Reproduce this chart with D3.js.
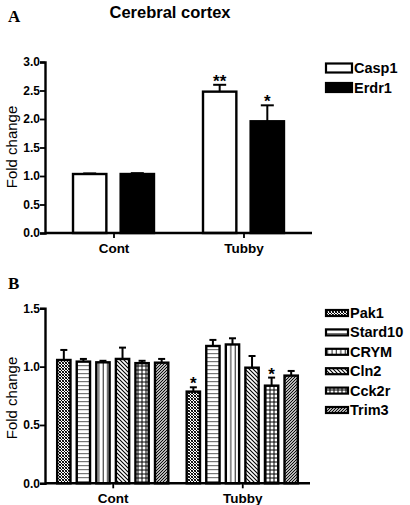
<!DOCTYPE html>
<html><head><meta charset="utf-8">
<script src="https://cdn.jsdelivr.net/npm/d3@7"></script>
<style>body{margin:0;background:#fff}svg{display:block}</style>
</head><body>
<svg id="c" width="410" height="505"></svg>
<script>
const categories = ["Cont", "Tubby"];
// Panel A
const seriesA = ["Casp1", "Erdr1"];
const casp1 = [1.035, 2.48];
const casp1Err = [0.01, 0.12];
const erdr1 = [1.035, 1.96];
const erdr1Err = [0.015, 0.28];
const starsA = [["", ""], ["**", "*"]];
const ticksA = [0, 0.5, 1.0, 1.5, 2.0, 2.5, 3.0];
// Panel B
const seriesB = ["Pak1", "Stard10", "CRYM", "Cln2", "Cck2r", "Trim3"];
const pak1 = [1.057, 0.786];
const pak1Err = [0.086, 0.037];
const stard10 = [1.043, 1.177];
const stard10Err = [0.023, 0.052];
const crym = [1.037, 1.19];
const crymErr = [0.013, 0.053];
const cln2 = [1.066, 0.991];
const cln2Err = [0.097, 0.10];
const cck2r = [1.03, 0.837];
const cck2rErr = [0.02, 0.069];
const trim3 = [1.034, 0.923];
const trim3Err = [0.032, 0.04];
const starsB = [["", "", "", "", "", ""], ["*", "", "", "", "*", ""]];
const ticksB = [0, 0.5, 1.0, 1.5];

const svg = d3.select("#c");
const FONT = "'Liberation Sans', Arial, sans-serif";

// patterns
const defs = svg.append("defs");
function pat(id, w, h, draw, bg) {
  const p = defs.append("pattern").attr("id", id).attr("patternUnits", "userSpaceOnUse").attr("width", w).attr("height", h);
  p.append("rect").attr("width", w).attr("height", h).attr("fill", bg || "#fff");
  draw(p);
}
pat("pBlack", 4, 4, p => {}, "#000");
pat("pWhite", 4, 4, p => {}, "#fff");
pat("pPak1", 3, 3, p => {
  p.append("rect").attr("x", 0).attr("y", 0).attr("width", 1).attr("height", 1).attr("fill", "#000");
  p.append("rect").attr("x", 1).attr("y", 1).attr("width", 1).attr("height", 1).attr("fill", "#000");
  p.append("rect").attr("x", 2).attr("y", 2).attr("width", 1).attr("height", 1).attr("fill", "#000");
  p.append("rect").attr("x", 2).attr("y", 0).attr("width", 1).attr("height", 1).attr("fill", "#333");
  p.append("rect").attr("x", 0).attr("y", 2).attr("width", 1).attr("height", 1).attr("fill", "#333");
}, "#fff");
pat("pStard10", 4, 4, p => {
  p.append("rect").attr("x", 0).attr("y", 1).attr("width", 4).attr("height", 1.2).attr("fill", "#777");
});
pat("pCRYM", 4.4, 4, p => {
  p.append("rect").attr("x", 1.5).attr("y", 0).attr("width", 1).attr("height", 4).attr("fill", "#222");
});
pat("pCln2", 4, 4, p => {
  p.append("path").attr("d", "M0,0L4,4M-1,3L1,5M3,-1L5,1").attr("stroke", "#000").attr("stroke-width", 1.1);
});
pat("pCck2r", 4, 4, p => {
  p.append("rect").attr("x", 0).attr("y", 1.5).attr("width", 4).attr("height", 1).attr("fill", "#000");
  p.append("rect").attr("x", 1.5).attr("y", 0).attr("width", 1).attr("height", 4).attr("fill", "#000");
});
pat("pTrim3", 3, 3, p => {
  p.append("path").attr("d", "M0,3L3,0M-1,1L1,-1M2,4L4,2").attr("stroke", "#000").attr("stroke-width", 1.1);
});

function panel(opts) {
  const g = svg.append("g");
  const y = d3.scaleLinear().domain([0, opts.ymax]).range(opts.yRange);
  const x0 = d3.scaleBand().domain(categories).range(opts.xRange)
    .paddingInner(opts.pIn).paddingOuter(opts.pOut);
  const x1 = d3.scaleBand().domain(opts.series).range([0, x0.bandwidth()]).paddingInner(opts.p1);

  opts.series.forEach((s, si) => {
    categories.forEach((c, ci) => {
      const v = opts.values[si][ci], e = opts.errs[si][ci];
      const bx = x0(c) + x1(s), bw = x1.bandwidth();
      const cx = bx + bw / 2;
      g.append("line").attr("x1", cx).attr("x2", cx).attr("y1", y(v)).attr("y2", y(v + e))
        .attr("stroke", "#000").attr("stroke-width", 2);
      g.append("line").attr("x1", cx - opts.cap / 2).attr("x2", cx + opts.cap / 2).attr("y1", y(v + e)).attr("y2", y(v + e))
        .attr("stroke", "#000").attr("stroke-width", 2);
      g.append("rect").attr("x", bx).attr("y", y(v)).attr("width", bw).attr("height", y(0) - y(v))
        .attr("fill", `url(#${opts.fills[si]})`).attr("stroke", "#000").attr("stroke-width", 2.4);
      const st = opts.stars[ci][si];
      if (st) {
        g.append("text").attr("x", cx).attr("y", y(v + e) + opts.starDy).attr("text-anchor", "middle")
          .attr("font-family", FONT).attr("font-weight", "bold").attr("font-size", 17).text(st);
      }
    });
  });

  // y axis
  const ya = g.append("g").attr("transform", `translate(${opts.xRange[0]},0)`)
    .call(d3.axisLeft(y).tickValues(opts.ticks).tickFormat(d3.format(".1f")).tickSizeOuter(0).tickSize(5));
  ya.select(".domain").attr("stroke-width", 2.4);
  ya.selectAll(".tick line").attr("stroke-width", 1.8);
  ya.selectAll("text").attr("font-family", FONT).attr("font-weight", "bold").attr("font-size", 12).attr("x", -5).attr("fill", "#000");
  // x axis
  const xa = g.append("g").attr("transform", `translate(0,${opts.yRange[0]})`)
    .call(d3.axisBottom(d3.scalePoint().domain(categories).range([x0(categories[0]) + x0.bandwidth() / 2, x0(categories[1]) + x0.bandwidth() / 2]))
      .tickSize(5).tickSizeOuter(0));
  xa.select(".domain").attr("d", `M${opts.xRange[0]},0H${opts.xEnd}`).attr("stroke-width", 2.4);
  xa.selectAll(".tick line").attr("stroke-width", 1.8);
  xa.selectAll("text").attr("font-family", FONT).attr("font-weight", "bold").attr("font-size", 13.5).attr("dy", "0.95em").attr("y", 7).attr("fill", "#000");

  // y label
  g.append("text").attr("transform", `translate(${opts.ylabX},${opts.ylabY}) rotate(-90)`).attr("text-anchor", "middle")
    .attr("font-family", FONT).attr("font-size", 15).text("Fold change");

  // legend
  opts.series.forEach((s, si) => {
    const ly = opts.legY + si * opts.legStep;
    g.append("rect").attr("x", 326).attr("y", ly - opts.boxH / 2).attr("width", opts.boxW).attr("height", opts.boxH)
      .attr("fill", `url(#${opts.fills[si]})`).attr("stroke", "#000").attr("stroke-width", 2.2);
    g.append("text").attr("x", 328 + opts.boxW).attr("y", ly + 5).attr("font-family", FONT).attr("font-weight", "bold")
      .attr("font-size", 14.5).text(s);
  });
  return g;
}

panel({
  ymax: 3, yRange: [233, 62], xRange: [45, 312], xEnd: 312, pIn: 0.377, pOut: 0.2155, p1: 0.3,
  series: seriesA, values: [casp1, erdr1], errs: [casp1Err, erdr1Err], stars: starsA,
  fills: ["pWhite", "pBlack"], ticks: ticksA, cap: 13, starDy: 2,
  ylabX: 17, ylabY: 147, legY: 68, legStep: 19.5, boxW: 26, boxH: 9
});
panel({
  ymax: 1.5, yRange: [483.3, 308.3], xRange: [45, 310], xEnd: 310, pIn: 0.142, pOut: 0.094, p1: 0.32,
  series: seriesB, values: [pak1, stard10, crym, cln2, cck2r, trim3],
  errs: [pak1Err, stard10Err, crymErr, cln2Err, cck2rErr, trim3Err], stars: starsB,
  fills: ["pPak1", "pStard10", "pCRYM", "pCln2", "pCck2r", "pTrim3"], ticks: ticksB, cap: 7, starDy: 2,
  ylabX: 17, ylabY: 398, legY: 313, legStep: 19.4, boxW: 22, boxH: 6
});

// title and panel letters
svg.append("text").attr("x", 170).attr("y", 18).attr("text-anchor", "middle").attr("font-family", FONT)
  .attr("font-weight", "bold").attr("font-size", 16.5).text("Cerebral cortex");
svg.append("text").attr("x", 8).attr("y", 22).attr("font-family", "'Liberation Serif', 'Times New Roman', serif")
  .attr("font-weight", "bold").attr("font-size", 17).text("A");
svg.append("text").attr("x", 8).attr("y", 289).attr("font-family", "'Liberation Serif', 'Times New Roman', serif")
  .attr("font-weight", "bold").attr("font-size", 17).text("B");
</script>
</body></html>
